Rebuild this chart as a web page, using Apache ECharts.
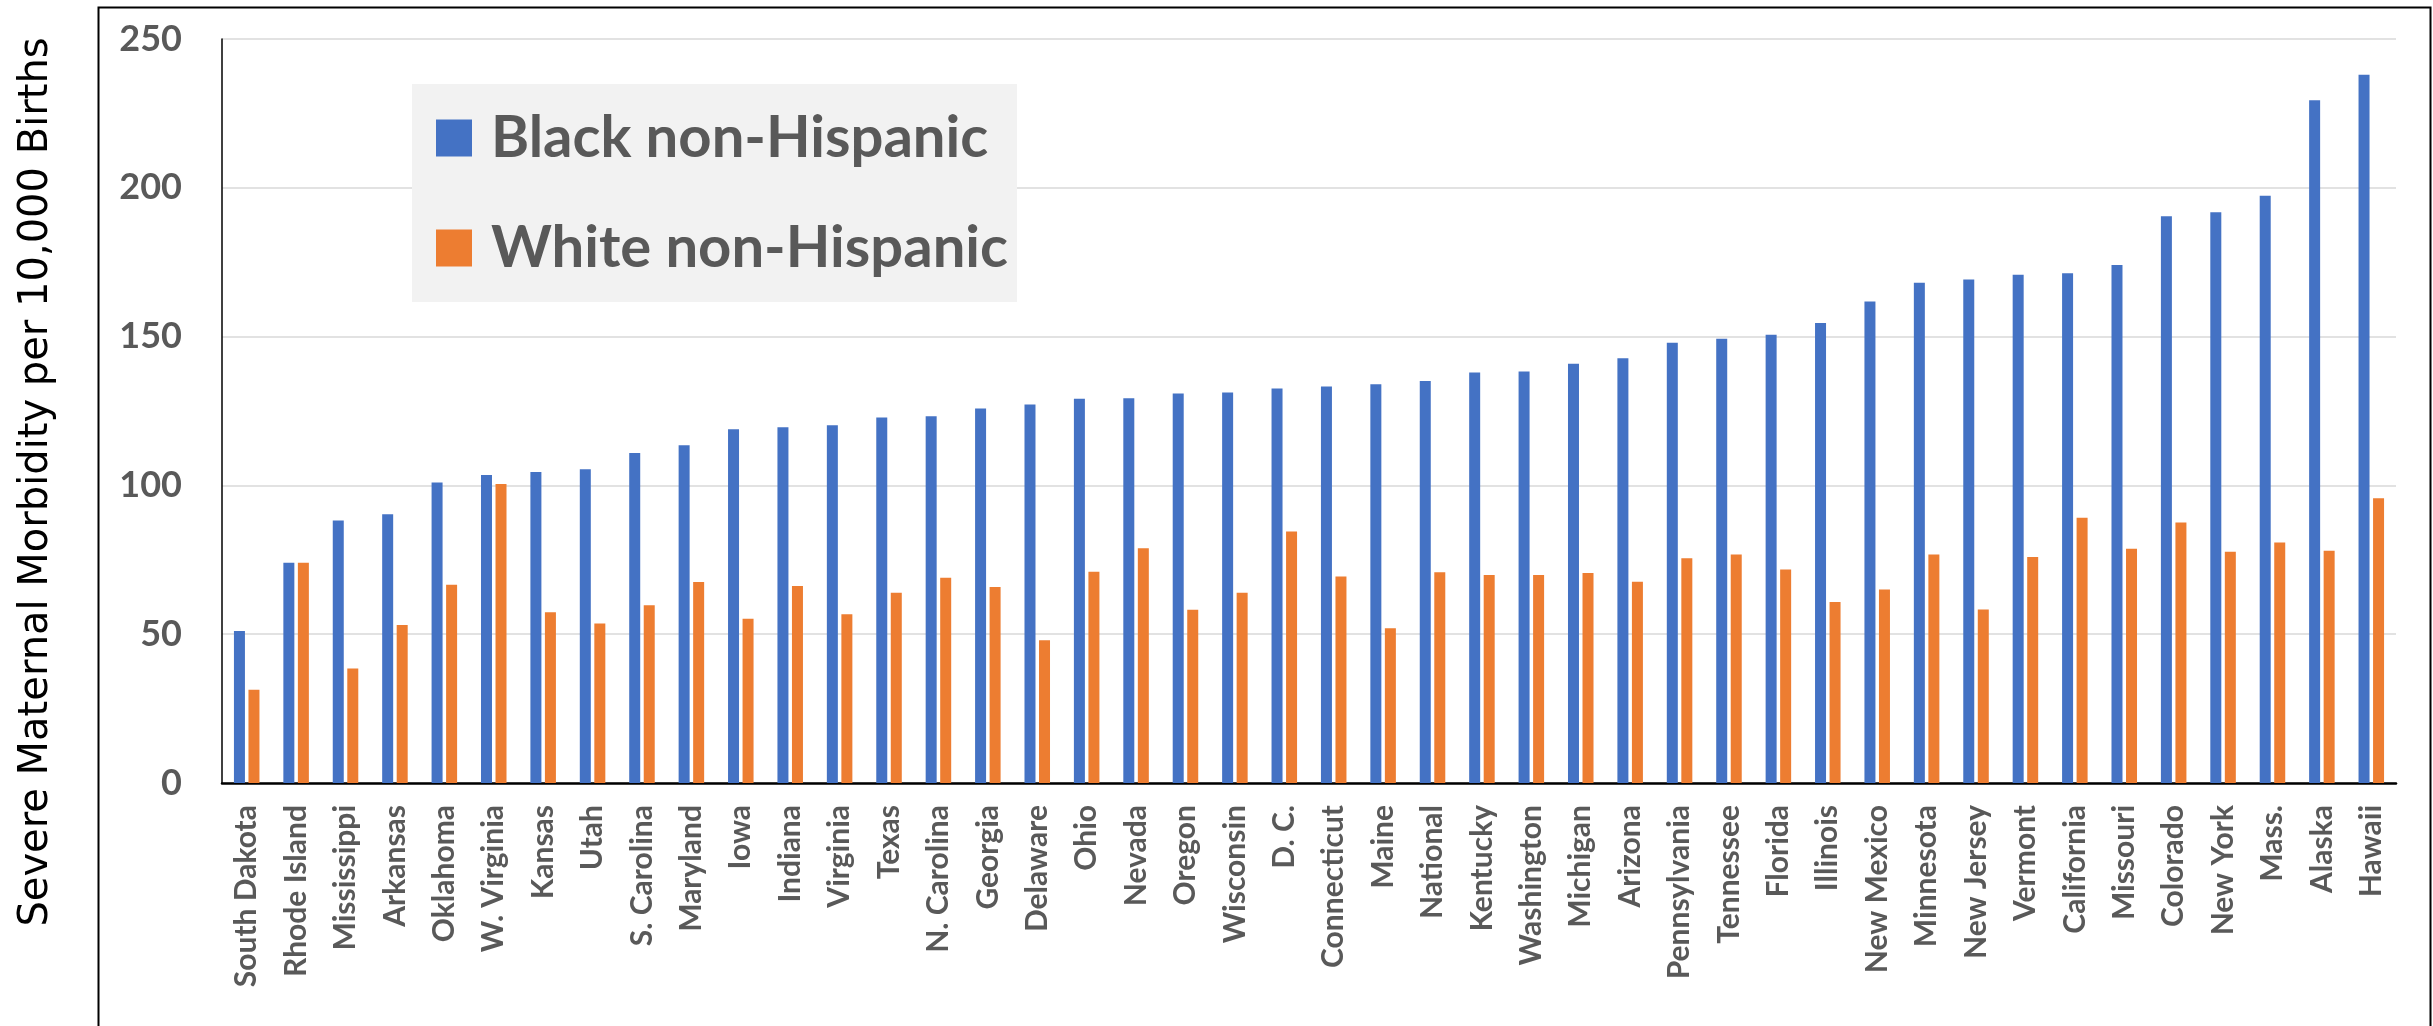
<!DOCTYPE html>
<html>
<head>
<meta charset="utf-8">
<script src="https://cdn.jsdelivr.net/npm/echarts@6/dist/echarts.min.js"></script>
<style>
html,body{margin:0;padding:0;background:#fff;}
#c{width:2433px;height:1026px;}
</style>
</head>
<body>
<div id="c"></div>
<script>
const categories = ["South Dakota","Rhode Island","Mississippi","Arkansas","Oklahoma","W. Virginia","Kansas","Utah","S. Carolina","Maryland","Iowa","Indiana","Virginia","Texas","N. Carolina","Georgia","Delaware","Ohio","Nevada","Oregon","Wisconsin","D. C.","Connecticut","Maine","National","Kentucky","Washington","Michigan","Arizona","Pennsylvania","Tennessee","Florida","Illinois","New Mexico","Minnesota","New Jersey","Vermont","California","Missouri","Colorado","New York","Mass.","Alaska","Hawaii"];
const blackNonHispanic = [51.1,74.0,88.2,90.3,101.0,103.5,104.5,105.4,110.9,113.5,118.9,119.5,120.2,122.8,123.2,125.8,127.2,129.1,129.3,130.9,131.2,132.6,133.2,134.0,135.1,137.9,138.3,140.9,142.7,147.9,149.3,150.6,154.6,161.8,168.1,169.2,170.8,171.3,174.1,190.4,191.8,197.3,229.4,238.0];
const whiteNonHispanic = [31.3,74.0,38.5,53.1,66.6,100.5,57.4,53.6,59.7,67.5,55.2,66.2,56.7,63.9,69.0,65.9,48.0,71.0,78.9,58.2,63.9,84.5,69.4,52.0,70.8,69.9,69.9,70.6,67.6,75.5,76.8,71.7,60.8,65.0,76.8,58.3,75.9,89.1,78.7,87.5,77.7,80.8,78.0,95.7];
const seriesNames = ["Black non-Hispanic","White non-Hispanic"];
const yAxisTitle = "Severe Maternal Morbidity per 10,000 Births";

const chart = echarts.init(document.getElementById('c'), null, {renderer:'canvas'});
const grey = '#595959';
chart.setOption({
  animation:false,
  backgroundColor:'#fff',
  graphic:[
    {type:'rect', left:96, top:5, shape:{x:0,y:0,width:2332,height:1040}, style:{fill:'none', stroke:'#000', lineWidth:2}, z:0},
    {type:'rect', shape:{x:412,y:84,width:605,height:218}, style:{fill:'#F2F2F2'}, z:5},
    {type:'text', x:37, y:482, rotation:Math.PI/2, style:{text:yAxisTitle, fill:'#000', font:'40px "DejaVu Sans"', textAlign:'center', textVerticalAlign:'middle'}, z:10}
  ],
  legend:{
    orient:'vertical', left:412, top:84, padding:[24,24,24,24],
    itemWidth:36, itemHeight:37, itemGap:50,
    icon:'rect',
    textStyle:{fontFamily:'Lato', fontWeight:'bold', fontSize:58, color:grey, lineHeight:60, padding:[0,0,0,14]},
    data:seriesNames, z:6
  },
  grid:{left:222, right:37, top:39, bottom:243, containLabel:false},
  xAxis:{
    type:'category', data:categories,
    axisLine:{lineStyle:{color:'#000', width:2.5}},
    axisTick:{show:false},
    axisLabel:{interval:0, rotate:90, margin:22, fontFamily:'Lato', fontWeight:'bold', fontSize:30, color:grey}
  },
  yAxis:{
    type:'value', min:0, max:250, interval:50,
    axisLine:{show:true, lineStyle:{color:'#000', width:1.5}},
    axisTick:{show:false},
    splitLine:{lineStyle:{color:'#D9D9D9', width:1.5}},
    axisLabel:{margin:40, fontFamily:'Lato', fontWeight:'bold', fontSize:36, color:grey}
  },
  series:[
    {name:seriesNames[0], type:'bar', data:blackNonHispanic, barWidth:11, barGap:'32%', itemStyle:{color:'#4472C4'}},
    {name:seriesNames[1], type:'bar', data:whiteNonHispanic, barWidth:11, itemStyle:{color:'#ED7D31'}}
  ]
});
</script>
</body>
</html>
